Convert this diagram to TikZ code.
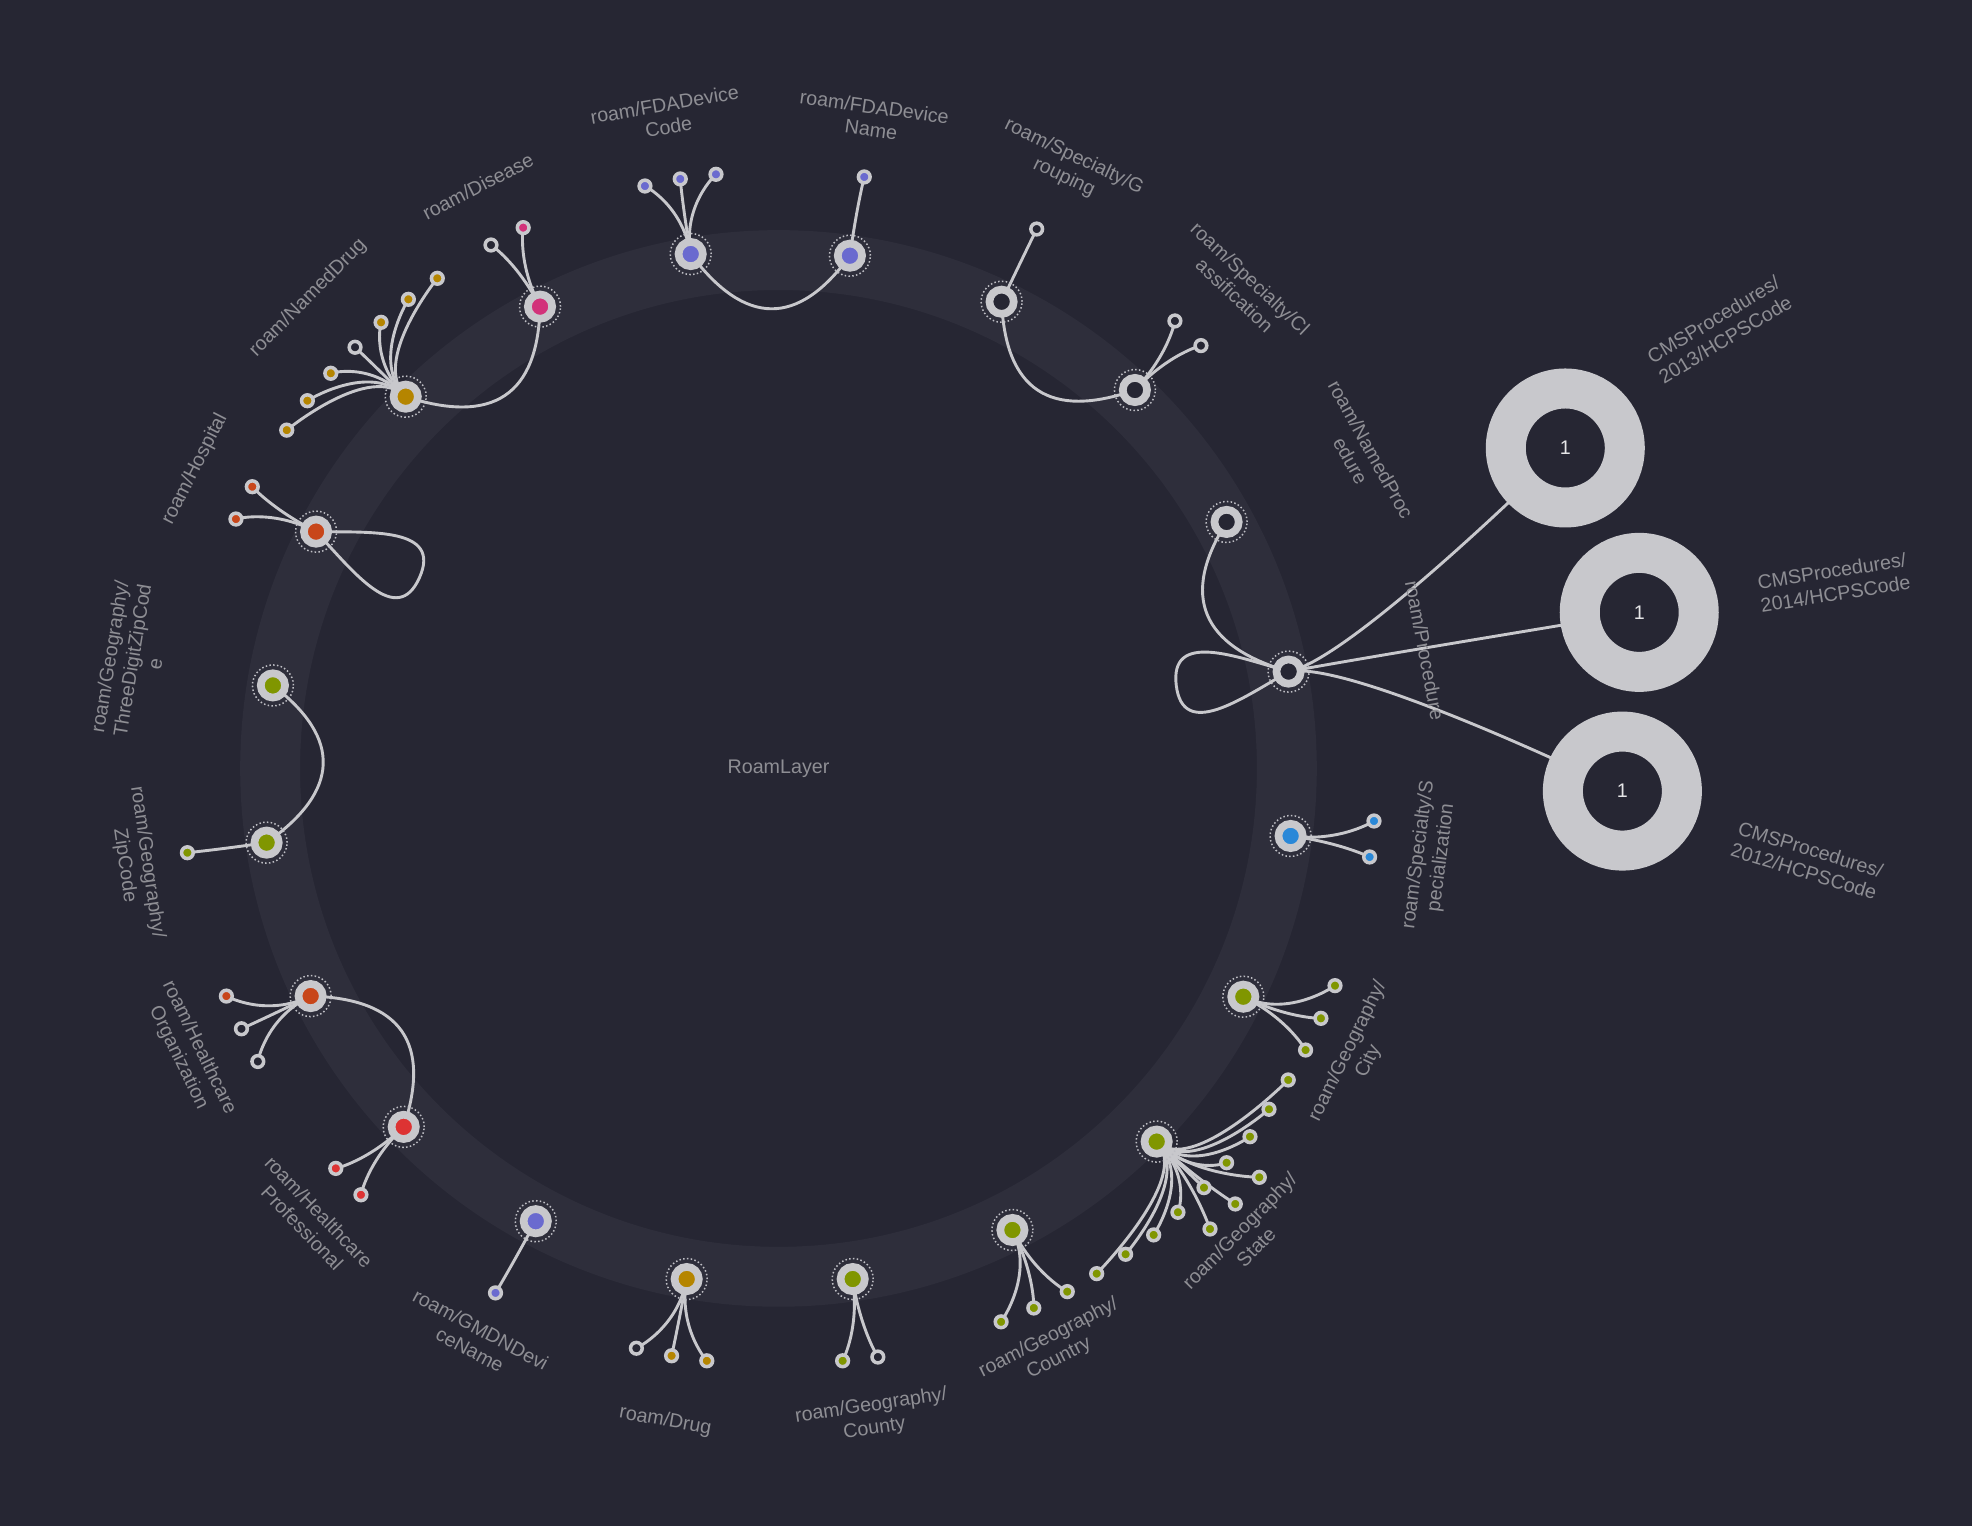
\documentclass[tikz,border=0pt]{standalone}
\usepackage{fontspec}
\setmainfont{Liberation Sans}
\usetikzlibrary{calc}
\definecolor{bgc}{HTML}{262633}
\definecolor{bandc}{HTML}{2E2E3B}
\definecolor{lgc}{HTML}{C8C8CC}
\definecolor{dotc}{HTML}{BEBEC4}
\definecolor{txtc}{HTML}{8E8E94}
\definecolor{onec}{HTML}{E6E6E8}
\definecolor{cblue}{HTML}{6A6ACF}
\definecolor{cspec}{HTML}{2A88D8}
\definecolor{colive}{HTML}{809600}
\definecolor{cgold}{HTML}{B58500}
\definecolor{cpink}{HTML}{D2327A}
\definecolor{cred}{HTML}{DD3333}
\definecolor{corg}{HTML}{C8461A}
\pgfdeclarelayer{bg}
\pgfdeclarelayer{edges}
\pgfsetlayers{bg,edges,main}
\tikzset{
  mainnd/.style={circle, draw=lgc, line width=7.7pt, minimum size=24.3pt, inner sep=0pt},
  leafnd/.style={circle, draw=lgc, line width=3.5pt, minimum size=11.7pt, inner sep=0pt},
  dotring/.style={draw=dotc, line width=1.5pt, dash pattern=on 1.5pt off 2.3pt},
  edge/.style={draw=lgc, line width=2.9pt},
  lab/.style={text=txtc, font=\fontsize{19.7}{23}\selectfont, align=center, inner sep=0pt},
  donut/.style={circle, draw=lgc, fill=bgc, line width=40pt, minimum size=119pt, inner sep=0pt, text=onec, font=\fontsize{19.7}{23}\selectfont}
}
\newcommand\MNode[4]{\draw[dotring] (#2,-#3) circle[radius=20.5pt]; \node[mainnd,fill=#4] (#1) at (#2,-#3) {};}
\newcommand\LNode[5]{\node[leafnd,fill=#5] (#1) at (#2,-#3) {};
  \begin{pgfonlayer}{edges}\draw[edge] (#4.center) .. controls ($(#4.center)!-50pt!(C)$) and (#1.center) .. (#1.center);\end{pgfonlayer}}
\newcommand\RingEdge[2]{%
  \coordinate (rmid) at ($(#1.center)!0.5!(#2.center)$);
  \coordinate (rq) at ($(C)!0.79!(rmid)$);
  \begin{pgfonlayer}{edges}\draw[edge] (#1.center) .. controls ($(#1.center)!0.6667!(rq)$) and ($(#2.center)!0.6667!(rq)$) .. (#2.center);\end{pgfonlayer}}
\newcommand\DonutEdge[2]{\begin{pgfonlayer}{edges}\draw[edge] (#1.center) .. controls ($(#1.center)!-65pt!(C)$) and (#2.center) .. (#2.center);\end{pgfonlayer}}
\begin{document}
\begin{tikzpicture}[x=1.25766pt, y=1.25766pt]
\path[use as bounding box] (0,0) rectangle (1568,-1213.3);
\coordinate (C) at (619,-611);
\begin{pgfonlayer}{bg}
\fill[bgc] (0,0) rectangle (1568,-1213.3);
\draw[bandc, line width=59.9pt] (C) circle[radius=404.2];
\end{pgfonlayer}
\node[lab] (center) at (C) {RoamLayer};
% main nodes
\MNode{fdac}{549.2}{202}{cblue}
\MNode{fdan}{675.8}{203.3}{cblue}
\MNode{grp}{796.4}{239.9}{bgc}
\MNode{cls}{902.4}{310.1}{bgc}
\MNode{nproc}{975.3}{415}{bgc}
\MNode{proc}{1024.6}{534}{bgc}
\MNode{spec}{1026.2}{664.7}{cspec}
\MNode{city}{988.6}{792.5}{colive}
\MNode{state}{919.7}{907.7}{colive}
\MNode{country}{805}{978}{colive}
\MNode{county}{678}{1017}{colive}
\MNode{drug}{546}{1017}{cgold}
\MNode{gmdn}{426}{971}{cblue}
\MNode{hp}{321}{896}{cred}
\MNode{ho}{247}{792}{corg}
\MNode{zip}{212}{670}{colive}
\MNode{tdz}{217}{545}{colive}
\MNode{hosp}{251.3}{422.7}{corg}
\MNode{ndrug}{322.6}{315.4}{cgold}
\MNode{dis}{429.4}{243.8}{cpink}
% donuts
\node[donut] (d13) at (1244.6,-356.2) {1};
\node[donut] (d14) at (1303.4,-486.9) {1};
\node[donut] (d12) at (1290,-629) {1};
\DonutEdge{proc}{d13}
\DonutEdge{proc}{d14}
\DonutEdge{proc}{d12}
% leaves
\LNode{fdac1}{512.8}{147.9}{fdac}{cblue}
\LNode{fdac2}{540.9}{142.3}{fdac}{cblue}
\LNode{fdac3}{569.3}{138.6}{fdac}{cblue}
\LNode{fdan1}{687.2}{140.7}{fdan}{cblue}
\LNode{grp1}{824.3}{182.1}{grp}{bgc}
\LNode{cls1}{934.2}{255.2}{cls}{bgc}
\LNode{cls2}{954.9}{274.8}{cls}{bgc}
\LNode{spec1}{1092.5}{652.8}{spec}{cspec}
\LNode{spec2}{1089}{681.4}{spec}{cspec}
\LNode{city1}{1061.5}{783.7}{city}{colive}
\LNode{city2}{1050.3}{809.7}{city}{colive}
\LNode{city3}{1038.1}{834.9}{city}{colive}
\LNode{st1}{1024.3}{858.7}{state}{colive}
\LNode{st2}{1009.0}{882.0}{state}{colive}
\LNode{st3}{993.9}{903.8}{state}{colive}
\LNode{st4}{975.3}{924.5}{state}{colive}
\LNode{st5}{1001.3}{936.1}{state}{colive}
\LNode{st6}{957.3}{944.3}{state}{colive}
\LNode{st7}{982.2}{957.3}{state}{colive}
\LNode{st8}{936.6}{963.9}{state}{colive}
\LNode{st9}{962.1}{977.2}{state}{colive}
\LNode{st10}{917.3}{981.9}{state}{colive}
\LNode{st11}{895.0}{997.3}{state}{colive}
\LNode{st12}{872.0}{1012.7}{state}{colive}
\LNode{co1}{796}{1051}{country}{colive}
\LNode{co2}{822}{1040}{country}{colive}
\LNode{co3}{848.6}{1027}{country}{colive}
\LNode{cy1}{670}{1082}{county}{colive}
\LNode{cy2}{698}{1079}{county}{bgc}
\LNode{dr1}{506}{1072}{drug}{bgc}
\LNode{dr2}{534}{1078}{drug}{cgold}
\LNode{dr3}{562}{1082}{drug}{cgold}
\LNode{gm1}{394}{1028}{gmdn}{cblue}
\LNode{hp1}{267}{929}{hp}{cred}
\LNode{hp2}{287}{950}{hp}{cred}
\LNode{ho1}{180}{792}{ho}{corg}
\LNode{ho2}{192}{818}{ho}{bgc}
\LNode{ho3}{205}{844}{ho}{bgc}
\LNode{zip1}{149}{678}{zip}{colive}
\LNode{hs1}{200.6}{387}{hosp}{corg}
\LNode{hs2}{187.6}{412.7}{hosp}{corg}
\LNode{nd1}{347.7}{221.3}{ndrug}{cgold}
\LNode{nd2}{324.7}{238}{ndrug}{cgold}
\LNode{nd3}{303}{256.3}{ndrug}{cgold}
\LNode{nd4}{282.3}{276.1}{ndrug}{bgc}
\LNode{nd5}{263}{296.8}{ndrug}{cgold}
\LNode{nd6}{244.4}{318.6}{ndrug}{cgold}
\LNode{nd7}{228}{342}{ndrug}{cgold}
\LNode{ds1}{390.4}{194.8}{dis}{bgc}
\LNode{ds2}{416}{181}{dis}{cpink}
% ring edges
\RingEdge{fdac}{fdan}
\RingEdge{grp}{cls}
\RingEdge{nproc}{proc}
\RingEdge{tdz}{zip}
\RingEdge{ho}{hp}
\RingEdge{ndrug}{dis}
% self loops
\begin{pgfonlayer}{edges}
\draw[edge] (hosp.center) to[out=-1,in=66,looseness=1.25] ++(-24:90) to[out=-114,in=-47,looseness=1.25] (hosp.center);
\draw[edge] (proc.center) to[out=210,in=277,looseness=1.25] ++(187:90) to[out=97,in=164,looseness=1.25] (proc.center);
\end{pgfonlayer}
% labels
\node[lab, rotate=9.8] (l1) at (530,-92) {roam/FDADevice\\Code};
\node[lab, rotate=-8] (l2) at (694,-94) {roam/FDADevice\\Name};
\node[lab, rotate=-25.5] (l3) at (850,-133) {roam/Specialty/G\\rouping};
\node[lab, rotate=-43.2] (l4) at (988,-228) {roam/Specialty/Cl\\assification};
\node[lab, rotate=-61] (l5) at (1082,-362) {roam/NamedProc\\edure};
\node[lab, rotate=-79.3] (l6) at (1133,-517) {roam/Procedure};
\node[lab, rotate=82.6] (l7) at (1137,-681) {roam/Specialty/S\\pecialization};
\node[lab, rotate=63.9] (l8) at (1080,-840) {roam/Geography/\\City};
\node[lab, rotate=45.5] (l9) at (992,-985) {roam/Geography/\\State};
\node[lab, rotate=26.9] (l10) at (838,-1072) {roam/Geography/\\Country};
\node[lab, rotate=8.3] (l11) at (694,-1127) {roam/Geography/\\County};
\node[lab, rotate=-10.2] (l12) at (529,-1130) {roam/Drug};
\node[lab, rotate=-28.2] (l13) at (378,-1065) {roam/GMDNDevi\\ceName};
\node[lab, rotate=-46.3] (l14) at (247,-970) {roam/Healthcare\\Professional};
\node[lab, rotate=-64.1] (l15) at (150,-837) {roam/Healthcare\\Organization};
\node[lab, rotate=-81.75] (l16) at (108,-687) {roam/Geography/\\ZipCode};
\node[lab, rotate=80.7] (l17) at (105,-525) {roam/Geography/\\ThreeDigitZipCod\\e};
\node[lab, rotate=62.9] (l18) at (155,-373) {roam/Hospital};
\node[lab, rotate=45.2] (l19) at (245,-237) {roam/NamedDrug};
\node[lab, rotate=27.3] (l20) at (380,-148) {roam/Disease};
\node[lab, rotate=31] (l21) at (1367,-262) {CMSProcedures/\\2013/HCPSCode};
\node[lab, rotate=9] (l22) at (1458,-463) {CMSProcedures/\\2014/HCPSCode};
\node[lab, rotate=-17] (l23) at (1437,-684) {CMSProcedures/\\2012/HCPSCode};
\end{tikzpicture}
\end{document}
